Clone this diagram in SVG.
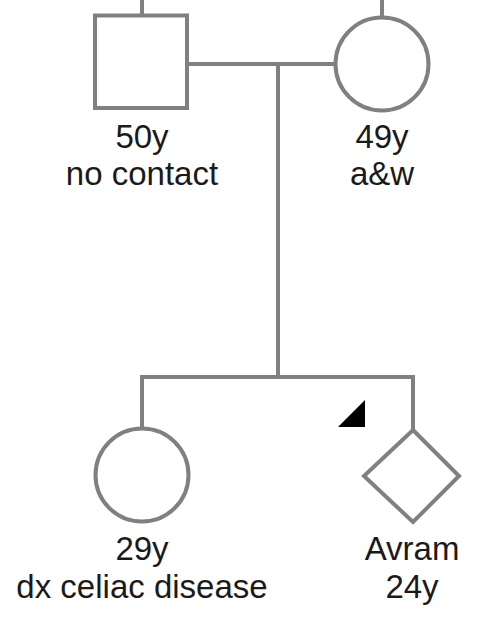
<svg xmlns="http://www.w3.org/2000/svg" width="502" height="642" viewBox="0 0 502 642">
<style>
.s{fill:#fff;stroke:#808080;stroke-width:4}
.l{fill:none;stroke:#808080;stroke-width:4}
.t{font-family:"Liberation Sans",Arial,sans-serif;font-size:33px;fill:#1a1a1a;text-anchor:middle}
</style>
<rect width="502" height="642" fill="#fff"/>
<g id="connectors">
<line class="l" x1="142" y1="0" x2="142" y2="15"/>
<line class="l" x1="382" y1="0" x2="382" y2="17"/>
<line class="l" x1="187" y1="64" x2="335" y2="64"/>
<line class="l" x1="278" y1="64" x2="278" y2="377"/>
<polyline class="l" points="142,428 142,377 413,377 413,430"/>
</g>
<g id="father">
<rect class="s" x="95" y="15.5" width="92" height="92.5"/>
<text class="t" x="142" y="148">50y</text>
<text class="t" x="142" y="185">no contact</text>
</g>
<g id="mother">
<circle class="s" cx="382" cy="64" r="46.5"/>
<text class="t" x="382" y="148">49y</text>
<text class="t" x="382" y="185">a&amp;w</text>
</g>
<g id="daughter">
<circle class="s" cx="142" cy="475" r="46.5"/>
<text class="t" x="142" y="560">29y</text>
<text class="t" x="142" y="598">dx celiac disease</text>
</g>
<g id="avram">
<polygon class="s" points="413,430 459,476 413,522 364,476"/>
<polygon points="338,427 365,400 365,427" fill="#000"/>
<text class="t" x="412" y="560">Avram</text>
<text class="t" x="412" y="598">24y</text>
</g>
</svg>
